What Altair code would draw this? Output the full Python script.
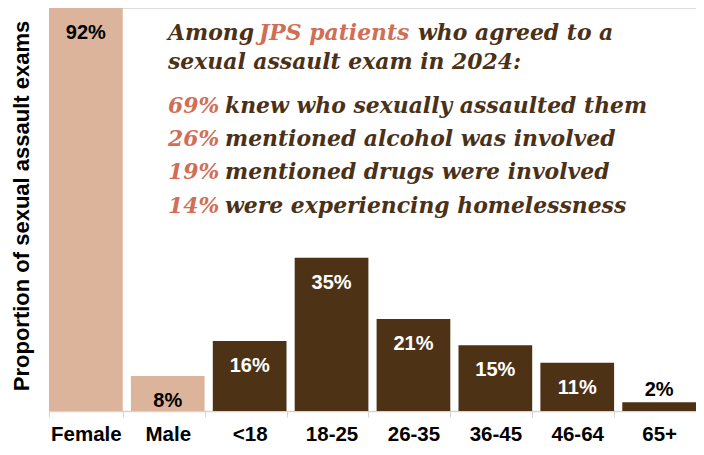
import altair as alt
import pandas as pd

categories = ["Female", "Male", "<18", "18-25", "26-35", "36-45", "46-64", "65+"]
groups = ["sex", "sex", "age", "age", "age", "age", "age", "age"]
values = [0.92, 0.08, 0.16, 0.35, 0.21, 0.15, 0.11, 0.02]
labels = ["92%", "8%", "16%", "35%", "21%", "15%", "11%", "2%"]

head_parts = ["Among", "JPS patients", "who agreed to a"]
head_line2 = "sexual assault exam in 2024:"
stat_pcts = ["69%", "26%", "19%", "14%"]
stat_texts = [
    "knew who sexually assaulted them",
    "mentioned alcohol was involved",
    "mentioned drugs were involved",
    "were experiencing homelessness",
]

TAN = "#dbb49b"
DARK = "#4d3216"
SALMON = "#d06e56"
TXT = "#4a3118"
SANS = "Liberation Sans"
SERIF = "DejaVu Serif"

df = pd.DataFrame({"cat": categories, "grp": groups, "value": values, "label": labels})

W, H = 647, 403

base = alt.Chart(df).encode(
    x=alt.X("cat:N", sort=categories,
            scale=alt.Scale(paddingInner=0.1, paddingOuter=0),
            axis=alt.Axis(title=None, labelAngle=0, labelFont=SANS, labelFontSize=20.5,
                          labelFontWeight="bold", labelColor="black", labelPadding=7,
                          domainColor="#d4d4d4", tickColor="#d4d4d4", tickSize=6,
                          tickBand="extent", domainWidth=1.5)),
    y=alt.Y("value:Q", scale=alt.Scale(domain=[0, 0.92], nice=False, zero=True),
            axis=alt.Axis(title="Proportion of sexual assault exams", labels=False, ticks=False,
                          domain=False, grid=False, titleFont=SANS, titleFontSize=22,
                          titleFontWeight="bold", titleColor="black", titleAngle=-90,
                          titleX=-28, titleY=H / 2 - 4, titleAlign="center", titleBaseline="middle")),
)

bars = base.mark_bar().encode(
    color=alt.Color("grp:N", scale=alt.Scale(domain=["sex", "age"], range=[TAN, DARK]), legend=None)
)

inside = base.transform_filter("datum.value >= 0.05").mark_text(
    font=SANS, fontSize=20, fontWeight="bold", baseline="middle", dy=25
).encode(
    text="label:N",
    color=alt.condition("datum.grp == 'sex'", alt.value("black"), alt.value("white")),
)

outside = base.transform_filter("datum.value < 0.05").mark_text(
    font=SANS, fontSize=20, fontWeight="bold", baseline="middle", dy=-12, color="black"
).encode(text="label:N")

one = pd.DataFrame({"k": [0]})


def seg(text, x, y, color, size=21.9):
    return alt.Chart(one).mark_text(
        text=text, font=SERIF, fontSize=size, fontWeight="bold", fontStyle="italic",
        align="left", baseline="middle", color=color
    ).encode(x=alt.value(x), y=alt.value(y))


layers = [bars, inside, outside]
layers.append(seg(head_parts[0], 119, 25, TXT))
layers.append(seg(head_parts[1], 210, 25, SALMON))
layers.append(seg(head_parts[2], 369, 25, TXT))
layers.append(seg(head_line2, 119, 54, TXT))
ys = [98, 131, 164, 198]
for p, t, yy in zip(stat_pcts, stat_texts, ys):
    layers.append(seg(p, 119, yy, SALMON))
    layers.append(seg(t, 176, yy, TXT))

chart = alt.layer(*layers).properties(
    width=W, height=H,
    autosize=alt.AutoSizeParams(type="none"),
    padding={"left": 41, "top": 0, "right": 0, "bottom": 34},
).configure_view(stroke=None).configure(background="white")

chart.save("out.html", embed_options={"renderer": "svg", "actions": False})
